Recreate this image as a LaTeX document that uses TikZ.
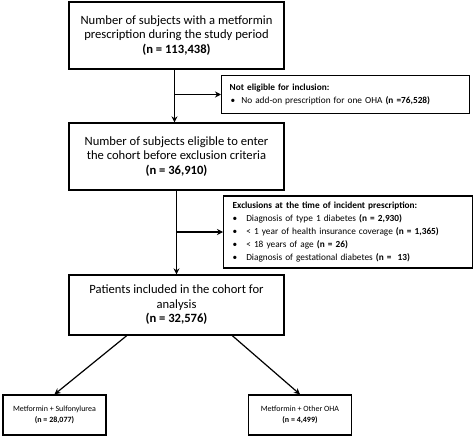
\documentclass[tikz,border=0pt]{standalone}
\usepackage{fontspec}
\setmainfont{Carlito}
\usetikzlibrary{arrows.meta,calc}
\begin{document}
\begin{tikzpicture}[x=1pt,y=-1pt,
  mainbox/.style={draw,line width=1.3pt,minimum width=215pt,align=center,inner sep=0pt,
    font=\fontsize{12.6pt}{14.5pt}\selectfont},
  sidebox/.style={draw,line width=1.3pt,align=left,inner xsep=8pt,inner ysep=0pt,anchor=west,
    font=\fontsize{9.3pt}{12.8pt}\selectfont},
  endbox/.style={draw,line width=1.3pt,minimum width=103pt,minimum height=40pt,align=center,inner sep=0pt,
    font=\fontsize{8pt}{11pt}\selectfont},
  conn/.style={line width=1.2pt},
  arr/.style={conn,-{Stealth[length=6pt,width=6pt,inset=2pt]}}]
\useasboundingbox (0,0) rectangle (474,436);
\node[mainbox,minimum height=67pt] (b1) at (176.5,35.5)
  {Number of subjects with a metformin\\prescription during the study period\\\textbf{(n = 113,438)}};
\node[mainbox,minimum height=67pt] (b2) at (176.5,156.5)
  {Number of subjects eligible to enter\\the cohort before exclusion criteria\\\textbf{(n = 36,910)}};
\node[mainbox,minimum height=60pt] (b3) at (176.5,305)
  {Patients included in the cohort for\\analysis\\\textbf{(n = 32,576)}};
\node[sidebox,minimum width=248pt,minimum height=38pt,text width=232pt] (ne) at (221,94.5)
  {\textbf{Not eligible for inclusion:}\\
   \hspace*{1pt}\textbullet\hspace{6pt}No add-on prescription for one OHA \textbf{(n =76,528)}};
\node[sidebox,minimum width=249pt,minimum height=72pt,text width=231pt,inner xsep=9pt] (ex) at (223,232)
  {\textbf{Exclusions at the time of incident prescription:}\\
   \textbullet\hspace{9pt}Diagnosis of type 1 diabetes \textbf{(n = 2,930)}\\
   \textbullet\hspace{9pt}< 1 year of health insurance coverage \textbf{(n = 1,365)}\\
   \textbullet\hspace{9pt}< 18 years of age \textbf{(n = 26)}\\
   \textbullet\hspace{9pt}Diagnosis of gestational diabetes \textbf{(n =\ \ 13)}};
\node[endbox] (bl) at (54.5,415) {Metformin + Sulfonylurea\\\textbf{(n = 28,077)}};
\node[endbox] (br) at (300,415) {Metformin + Other OHA\\\textbf{(n = 4,499)}};
\draw[arr] ([xshift=-2pt]b1.south) -- ([xshift=-2pt]b1.south |- b2.north);
\draw[arr] ([xshift=-2pt]b1.south |- ne.west) -- (ne.west);
\draw[arr] (b2.south) -- (b3.north);
\draw[arr] (b2.south |- ex.west) -- (ex.west);
\draw[arr] ($(b3.south west)!0.27!(b3.south east)$) -- (bl.north);
\draw[arr] ($(b3.south west)!0.758!(b3.south east)$) -- (br.north);
\end{tikzpicture}
\end{document}
